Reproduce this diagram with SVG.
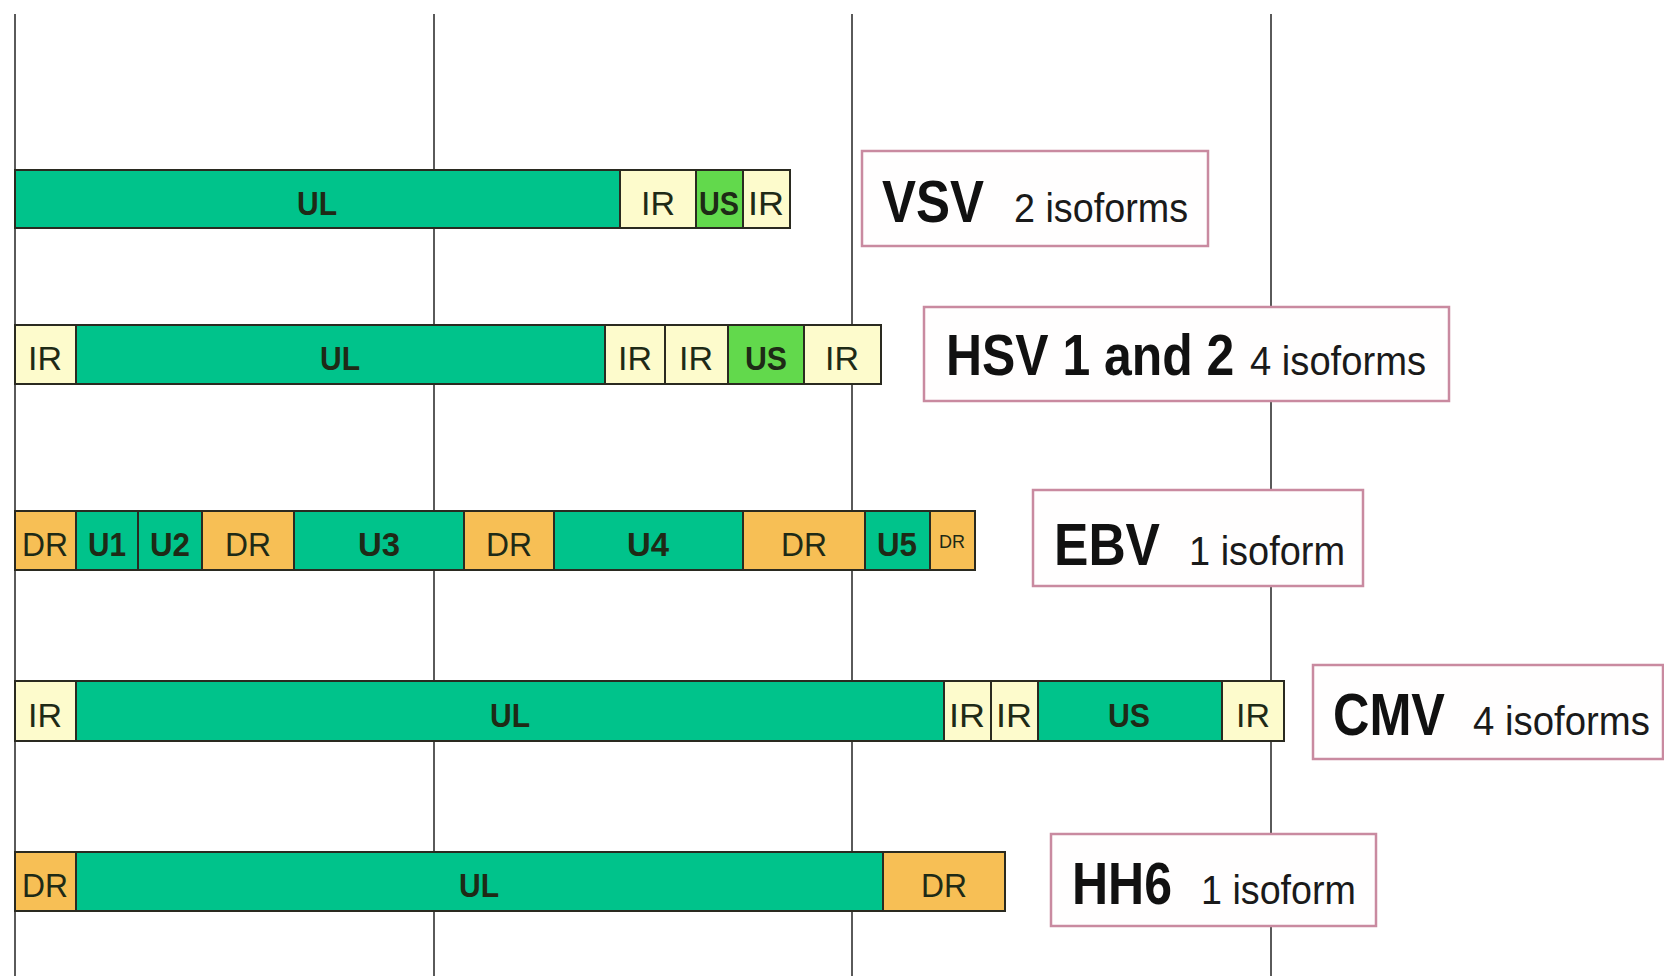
<svg xmlns="http://www.w3.org/2000/svg" width="1664" height="976" viewBox="0 0 1664 976">
<style>
.grid{stroke:#5a5a5a;stroke-width:2}
.seg{stroke:#2a2a20;stroke-width:2}
.ul{fill:#00c38b}
.ir{fill:#fdfbcc}
.us{fill:#62d94c}
.dr{fill:#f7bf55}
.box{fill:#fffefe;stroke:#c98aa0;stroke-width:2.5}
.t{font-family:"Liberation Sans",Arial,sans-serif;font-size:34px;fill:#1e2a16;text-anchor:middle}
.b{font-weight:bold}
.sm{font-size:18px}
.name{font-family:"Liberation Sans",Arial,sans-serif;font-size:60px;font-weight:bold;fill:#111}
.name2{font-size:57px}
.iso{font-family:"Liberation Sans",Arial,sans-serif;font-size:40px;fill:#1a1a1a}
</style>
<rect width="1664" height="976" fill="#ffffff"/>
<g id="grid">
<line class="grid" x1="15" y1="14" x2="15" y2="976"/>
<line class="grid" x1="434" y1="14" x2="434" y2="976"/>
<line class="grid" x1="852" y1="14" x2="852" y2="976"/>
<line class="grid" x1="1271" y1="14" x2="1271" y2="976"/>
</g>
<g id="connectors"></g>
<g id="vsv-bar">
<rect class="seg ul" x="15" y="170" width="605" height="58"/>
<rect class="seg ir" x="620" y="170" width="76" height="58"/>
<rect class="seg us" x="696" y="170" width="47" height="58"/>
<rect class="seg ir" x="743" y="170" width="47" height="58"/>
<text class="t b" x="317" y="215" textLength="40" lengthAdjust="spacingAndGlyphs">UL</text>
<text class="t" x="658" y="215">IR</text>
<text class="t b" x="719" y="215" textLength="40" lengthAdjust="spacingAndGlyphs">US</text>
<text class="t" x="766" y="215" textLength="36" lengthAdjust="spacingAndGlyphs">IR</text>
</g>
<g id="vsv-label">
<rect class="box" x="862" y="151" width="346" height="95"/>
<text class="name" x="882" y="222" textLength="102" lengthAdjust="spacingAndGlyphs">VSV</text>
<text class="iso" x="1014" y="222" textLength="174" lengthAdjust="spacingAndGlyphs">2 isoforms</text>
</g>
<g id="hsv-bar">
<rect class="seg ir" x="15" y="325" width="61" height="59"/>
<rect class="seg ul" x="76" y="325" width="529" height="59"/>
<rect class="seg ir" x="605" y="325" width="60" height="59"/>
<rect class="seg ir" x="665" y="325" width="63" height="59"/>
<rect class="seg us" x="728" y="325" width="76" height="59"/>
<rect class="seg ir" x="804" y="325" width="77" height="59"/>
<text class="t" x="45" y="370">IR</text>
<text class="t b" x="340" y="370" textLength="40" lengthAdjust="spacingAndGlyphs">UL</text>
<text class="t" x="635" y="370">IR</text>
<text class="t" x="696" y="370">IR</text>
<text class="t b" x="766" y="370" textLength="42" lengthAdjust="spacingAndGlyphs">US</text>
<text class="t" x="842" y="370">IR</text>
</g>
<g id="hsv-label">
<rect class="box" x="924" y="307" width="525" height="94"/>
<text class="name name2" transform="translate(946,375) scale(0.875,1)">HSV 1 and 2</text>
<text class="iso" x="1250" y="375" textLength="176" lengthAdjust="spacingAndGlyphs">4 isoforms</text>
</g>
<g id="ebv-bar">
<rect class="seg dr" x="15" y="511" width="61" height="59"/>
<rect class="seg ul" x="76" y="511" width="62" height="59"/>
<rect class="seg ul" x="138" y="511" width="64" height="59"/>
<rect class="seg dr" x="202" y="511" width="92" height="59"/>
<rect class="seg ul" x="294" y="511" width="170" height="59"/>
<rect class="seg dr" x="464" y="511" width="90" height="59"/>
<rect class="seg ul" x="554" y="511" width="189" height="59"/>
<rect class="seg dr" x="743" y="511" width="122" height="59"/>
<rect class="seg ul" x="865" y="511" width="65" height="59"/>
<rect class="seg dr" x="930" y="511" width="45" height="59"/>
<text class="t" x="45" y="556" textLength="46" lengthAdjust="spacingAndGlyphs">DR</text>
<text class="t b" x="107" y="556" textLength="38" lengthAdjust="spacingAndGlyphs">U1</text>
<text class="t b" x="170" y="556" textLength="40" lengthAdjust="spacingAndGlyphs">U2</text>
<text class="t" x="248" y="556" textLength="46" lengthAdjust="spacingAndGlyphs">DR</text>
<text class="t b" x="379" y="556" textLength="42" lengthAdjust="spacingAndGlyphs">U3</text>
<text class="t" x="509" y="556" textLength="46" lengthAdjust="spacingAndGlyphs">DR</text>
<text class="t b" x="648" y="556" textLength="42" lengthAdjust="spacingAndGlyphs">U4</text>
<text class="t" x="804" y="556" textLength="46" lengthAdjust="spacingAndGlyphs">DR</text>
<text class="t b" x="897" y="556" textLength="40" lengthAdjust="spacingAndGlyphs">U5</text>
<text class="t sm" x="952" y="548" textLength="26" lengthAdjust="spacingAndGlyphs">DR</text>
</g>
<g id="ebv-label">
<rect class="box" x="1033" y="490" width="330" height="96"/>
<text class="name" x="1054" y="565" textLength="106" lengthAdjust="spacingAndGlyphs">EBV</text>
<text class="iso" x="1189" y="565" textLength="156" lengthAdjust="spacingAndGlyphs">1 isoform</text>
</g>
<g id="cmv-bar">
<rect class="seg ir" x="15" y="681" width="61" height="60"/>
<rect class="seg ul" x="76" y="681" width="868" height="60"/>
<rect class="seg ir" x="944" y="681" width="47" height="60"/>
<rect class="seg ir" x="991" y="681" width="47" height="60"/>
<rect class="seg ul" x="1038" y="681" width="184" height="60"/>
<rect class="seg ir" x="1222" y="681" width="62" height="60"/>
<text class="t" x="45" y="727">IR</text>
<text class="t b" x="510" y="727" textLength="40" lengthAdjust="spacingAndGlyphs">UL</text>
<text class="t" x="967" y="727" textLength="36" lengthAdjust="spacingAndGlyphs">IR</text>
<text class="t" x="1014" y="727" textLength="36" lengthAdjust="spacingAndGlyphs">IR</text>
<text class="t b" x="1129" y="727" textLength="42" lengthAdjust="spacingAndGlyphs">US</text>
<text class="t" x="1253" y="727">IR</text>
</g>
<g id="cmv-label">
<rect class="box" x="1313" y="665" width="350" height="94"/>
<text class="name" x="1333" y="735" textLength="112" lengthAdjust="spacingAndGlyphs">CMV</text>
<text class="iso" x="1473" y="735" textLength="177" lengthAdjust="spacingAndGlyphs">4 isoforms</text>
</g>
<g id="hh6-bar">
<rect class="seg dr" x="15" y="852" width="61" height="59"/>
<rect class="seg ul" x="76" y="852" width="807" height="59"/>
<rect class="seg dr" x="883" y="852" width="122" height="59"/>
<text class="t" x="45" y="897" textLength="46" lengthAdjust="spacingAndGlyphs">DR</text>
<text class="t b" x="479" y="897" textLength="40" lengthAdjust="spacingAndGlyphs">UL</text>
<text class="t" x="944" y="897" textLength="46" lengthAdjust="spacingAndGlyphs">DR</text>
</g>
<g id="hh6-label">
<rect class="box" x="1051" y="834" width="325" height="92"/>
<text class="name" x="1072" y="904" textLength="100" lengthAdjust="spacingAndGlyphs">HH6</text>
<text class="iso" x="1201" y="904" textLength="155" lengthAdjust="spacingAndGlyphs">1 isoform</text>
</g>
</svg>
